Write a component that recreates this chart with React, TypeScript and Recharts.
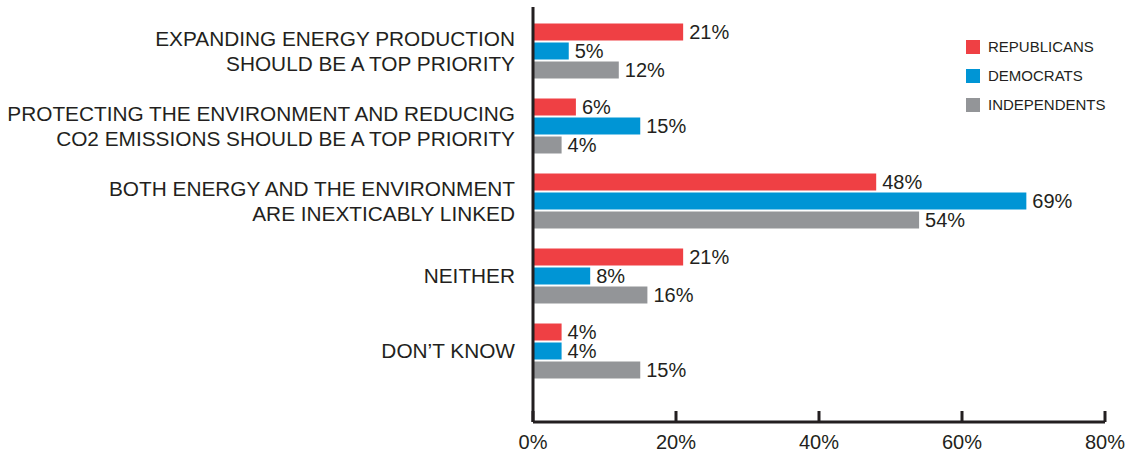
import { BarChart, Bar, XAxis, YAxis, LabelList, Legend } from "recharts";

const CATEGORIES = [
  "EXPANDING ENERGY PRODUCTION\nSHOULD BE A TOP PRIORITY",
  "PROTECTING THE ENVIRONMENT AND REDUCING\nCO2 EMISSIONS SHOULD BE A TOP PRIORITY",
  "BOTH ENERGY AND THE ENVIRONMENT\nARE INEXTICABLY LINKED",
  "NEITHER",
  "DON\u2019T KNOW",
];

const REPUBLICANS = [21, 6, 48, 21, 4];
const DEMOCRATS = [5, 15, 69, 8, 4];
const INDEPENDENTS = [12, 4, 54, 16, 15];

const SERIES_NAMES = ["REPUBLICANS", "DEMOCRATS", "INDEPENDENTS"];
const X_TICKS = [0, 20, 40, 60, 80];

const INK = "#231F20";
const FONT = "'Liberation Sans', Arial, Helvetica, sans-serif";

const data = CATEGORIES.map((category, i) => ({
  category,
  rep: REPUBLICANS[i],
  dem: DEMOCRATS[i],
  ind: INDEPENDENTS[i],
}));

function CategoryTick(props: any) {
  const { x, y, payload } = props;
  const lines: string[] = String(payload.value).split("\n");
  const lineH = 25;
  const first = -((lines.length - 1) * lineH) / 2;
  return (
    <text x={x} y={y} textAnchor="end" fill={INK} fontSize={20.8} fontFamily={FONT}>
      {lines.map((line, i) => (
        <tspan key={i} x={x} y={y + first + i * lineH + 7}>
          {line}
        </tspan>
      ))}
    </text>
  );
}

// keep the legend in series order (recharts sorts it by name otherwise)
function LegendBox({ payload }: any) {
  const items = [...(payload ?? [])].sort(
    (a: any, b: any) => SERIES_NAMES.indexOf(a.value) - SERIES_NAMES.indexOf(b.value)
  );
  return (
    <div style={{ fontFamily: FONT, fontSize: 15, color: INK }}>
      {items.map((p: any) => (
        <div key={p.value} style={{ display: "flex", alignItems: "center", height: 29 }}>
          <span style={{ display: "inline-block", width: 14, height: 14, background: p.color, marginRight: 8 }} />
          <span>{p.value}</span>
        </div>
      ))}
    </div>
  );
}

const pct = (v: any) => `${v}%`;

export default function App() {
  return (
    <div style={{ position: "absolute", left: 0, top: 0, background: "#fff" }}>
      <BarChart
        width={1140}
        height={452}
        data={data}
        layout="vertical"
        margin={{ top: 7, right: 35, bottom: 0, left: 0 }}
        barSize={17}
        barGap={2}
      >
        <XAxis
          type="number"
          domain={[0, 80]}
          ticks={X_TICKS}
          tickFormatter={pct}
          height={30}
          tickSize={-11}
          tickMargin={24}
          axisLine={{ stroke: INK, strokeWidth: 3 }}
          tickLine={{ stroke: INK, strokeWidth: 3 }}
          tick={{ fill: INK, fontSize: 20, fontFamily: FONT }}
          interval={0}
        />
        <YAxis
          type="category"
          dataKey="category"
          width={533}
          tickLine={false}
          tickMargin={12}
          axisLine={{ stroke: INK, strokeWidth: 3 }}
          tick={<CategoryTick />}
          padding={{ top: 6.5, bottom: 33.5 }}
          interval={0}
        />
        <Legend
          layout="vertical"
          align="center"
          verticalAlign="middle"
          wrapperStyle={{ left: 966, top: 32, width: "auto" }}
          content={<LegendBox />}
        />
        <Bar dataKey="rep" name={SERIES_NAMES[0]} fill="#EF4044" isAnimationActive={false}>
          <LabelList dataKey="rep" position="right" offset={6} formatter={pct} fill={INK} fontSize={20} fontFamily={FONT} />
        </Bar>
        <Bar dataKey="dem" name={SERIES_NAMES[1]} fill="#0095D5" isAnimationActive={false}>
          <LabelList dataKey="dem" position="right" offset={6} formatter={pct} fill={INK} fontSize={20} fontFamily={FONT} />
        </Bar>
        <Bar dataKey="ind" name={SERIES_NAMES[2]} fill="#939598" isAnimationActive={false}>
          <LabelList dataKey="ind" position="right" offset={6} formatter={pct} fill={INK} fontSize={20} fontFamily={FONT} />
        </Bar>
      </BarChart>
    </div>
  );
}
